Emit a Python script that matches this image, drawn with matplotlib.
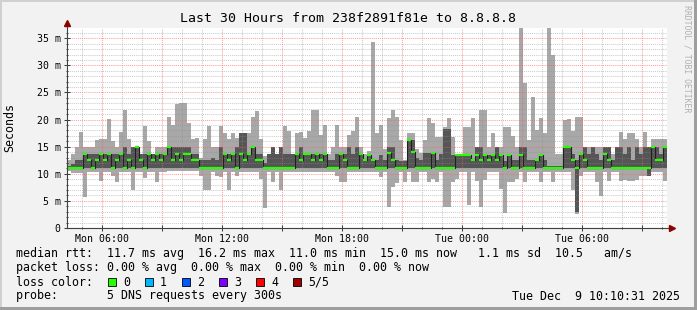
import numpy as np
import matplotlib
matplotlib.use('Agg')
import matplotlib.pyplot as plt
from matplotlib.patches import Rectangle
from matplotlib.ticker import MultipleLocator, FuncFormatter

plt.rcParams['font.family'] = ['DejaVu Sans Mono']

# smokeping rtt, 12 minute buckets starting Mon 04:15, values in ms
start_hour = 4.25
step_hour = 0.2

ping_min = [10.5, 10.2, 10.2, 10.2, 5.8, 10.3, 10.3, 10.3, 8.6, 10.3, 10.3, 9.6, 8.5, 10.3, 10.3, 10.3, 7.1, 10.3, 10.3, 9.2, 10.3, 10.3, 8.5, 10.3, 10.3,
            10.5, 10.5, 10.5, 10.5, 10.5, 10.5, 10.5, 10.5, 9.6, 7.1, 7.1, 10.3, 9.6, 9.5, 10.3, 7.1, 10.3, 9.6, 10.3, 10.3, 10.3, 10.3, 10.3, 9.0, 3.7,
            10.3, 8.4, 10.3, 7.1, 10.3, 10.3, 10.3, 10.3, 10.3, 10.3, 10.3, 10.3, 10.3, 10.3, 10.3, 10.3, 10.3, 9.6, 8.5, 8.5, 10.3, 10.3, 10.3, 10.3, 10.3,
            10.3, 10.3, 10.3, 9.5, 10.3, 3.9, 7.5, 8.3, 10.3, 8.5, 10.3, 8.5, 8.5, 10.3, 10.3, 8.5, 9.0, 8.5, 10.3, 3.9, 3.9, 8.5, 9.0, 10.3, 10.3,
            4.2, 10.3, 8.7, 3.9, 8.8, 10.3, 10.3, 10.3, 7.2, 2.7, 8.5, 8.5, 9.0, 10.3, 8.5, 10.3, 10.3, 10.3, 8.5, 10.3, 10.3, 8.5, 10.3, 10.3, 10.3,
            10.3, 7.1, 2.5, 9.6, 10.3, 10.3, 10.3, 8.5, 5.9, 10.3, 8.6, 10.3, 10.3, 8.6, 8.9, 8.6, 8.6, 8.9, 9.6, 9.6, 9.6, 10.3, 10.3, 10.3, 8.6]

ping_lo = [11.0] * 127 + [3.0] + [11.0] * 17 + [9.6] + [11.0] * 4

ping_med = [11, 11, 11, 11, 13.6, 12.5, 11, 12.5, 13.6, 12.5, 13.6, 11, 12.5, 13.6, 11, 12.5, 11, 15.0, 12.5, 11, 13.6, 12.5, 13.6, 12.5, 13.6,
            15.0, 12.5, 13.6, 12.5, 13.6, 13.6, 12.5, 12.5, 11, 11, 11, 11, 11, 11, 13.6, 12.5, 13.6, 11, 13.6, 12.5, 13.6, 15.0, 12.5, 12.5, 11,
            11, 11, 11, 11, 11, 11, 11, 13.6, 12.5, 13.6, 13.6, 12.5, 13.6, 12.5, 13.6, 11, 11, 11, 13.6, 12.5, 11, 11, 11, 13.6, 12.5,
            13.5, 12.5, 11, 11, 11, 13.9, 12.5, 11, 11, 11, 16.2, 14.0, 11, 11, 11, 11, 13.9, 11, 11, 11, 11, 11, 13.5, 13.5, 13.5,
            13.5, 12.5, 13.5, 12.5, 13.5, 12.5, 13.5, 12.5, 13.5, 11, 13.5, 11, 11, 13.5, 11, 11, 11, 12.5, 13.5, 11, 11, 11, 11, 11, 15.0,
            15.0, 12.5, 11, 13.6, 12.5, 11, 11, 11, 11, 13.6, 12.5, 11, 11, 11, 11, 11, 11, 11, 11, 11, 11, 15.0, 12.5, 12.5, 15.0]

ping_hi = [11.5, 11.8, 12.5, 12.5, 13.6, 13.6, 13.6, 13.6, 13.6, 13.6, 13.6, 13.6, 13.6, 13.6, 15.0, 13.6, 15.0, 15.0, 13.6, 13.6, 13.6, 13.6, 13.6, 13.6, 13.6,
           15.0, 15.0, 15.0, 15.0, 15.0, 15.0, 13.6, 13.6, 12.5, 12.5, 12.5, 13.0, 12.5, 15.0, 13.6, 13.6, 13.6, 15.0, 17.5, 17.5, 13.6, 15.0, 13.6, 13.6, 12.0,
           13.6, 15.0, 13.6, 15.0, 13.6, 13.6, 13.6, 13.6, 15.0, 13.6, 13.6, 13.6, 13.6, 13.6, 13.6, 12.5, 12.5, 13.6, 13.6, 13.6, 15.0, 13.6, 15.0, 13.6, 12.5,
           13.5, 12.5, 12.5, 13.5, 12.5, 15.0, 15.0, 12.5, 12.3, 12.3, 16.2, 16.2, 13.0, 12.5, 13.9, 13.9, 13.9, 12.5, 13.6, 18.2, 18.2, 13.5, 13.5, 13.5, 13.5,
           13.5, 12.5, 15.0, 15.0, 13.5, 13.5, 13.5, 15.0, 13.5, 12.3, 13.5, 12.5, 12.5, 15.0, 15.0, 12.5, 12.5, 12.5, 13.5, 12.5, 11.5, 11.5, 11.5, 11.5, 15.0,
           15.0, 13.6, 12.5, 13.6, 15.0, 13.6, 15.0, 13.6, 12.5, 15.0, 15.0, 12.5, 15.0, 15.0, 13.6, 15.0, 12.5, 15.0, 13.6, 15.0, 15.0, 15.0, 15.0, 13.6, 15.0]

ping_max = [12.5, 13.6, 15.0, 17.7, 15.0, 15.0, 15.0, 16.2, 16.5, 16.5, 20.2, 16.0, 15.0, 17.7, 21.7, 16.4, 15.0, 15.0, 13.6, 18.8, 16.0, 13.6, 15.0, 15.0, 15.0,
            20.4, 19.0, 22.8, 23.0, 23.0, 19.4, 16.5, 16.6, 13.0, 16.5, 18.8, 15.0, 15.0, 18.8, 17.5, 16.5, 17.5, 16.6, 17.5, 17.5, 17.5, 20.4, 21.6, 16.5, 13.2,
            13.6, 15.0, 13.6, 15.0, 18.8, 17.9, 13.6, 17.5, 17.7, 16.6, 17.9, 21.7, 21.7, 17.2, 19.0, 13.6, 15.0, 19.0, 15.0, 15.0, 17.2, 17.9, 20.4, 15.0, 13.6,
            14.2, 34.4, 17.5, 19.0, 14.5, 20.3, 21.8, 20.5, 16.2, 12.5, 17.6, 17.6, 14.5, 13.9, 16.2, 20.3, 19.4, 16.8, 16.8, 18.7, 20.3, 16.8, 13.5, 13.5, 18.7,
            18.7, 20.3, 15.0, 21.8, 21.8, 15.0, 17.5, 15.0, 15.0, 18.7, 18.7, 17.0, 15.0, 37.1, 26.7, 16.2, 24.2, 18.1, 20.3, 17.5, 37.1, 31.9, 13.6, 13.6, 20.0,
            20.2, 17.9, 20.4, 20.4, 15.0, 15.0, 15.0, 15.0, 15.0, 15.0, 15.0, 13.6, 15.0, 17.7, 16.4, 17.5, 17.5, 16.4, 15.0, 17.7, 15.0, 16.5, 16.5, 16.5, 16.5]

tick_hours = [6, 12, 18, 24, 30]
tick_names = ['Mon 06:00', 'Mon 12:00', 'Mon 18:00', 'Tue 00:00', 'Tue 06:00']

loss_names = ['0', '1', '2', '3', '4', '5/5']
loss_colors = ['#26ff00', '#00b8ff', '#0059ff', '#7e00ff', '#ff0000', '#a10000']

title = 'Last 30 Hours from 238f2891f81e to 8.8.8.8'
legend_rtt = 'median rtt:  11.7 ms avg  16.2 ms max  11.0 ms min  15.0 ms now   1.1 ms sd  10.5   am/s'
legend_loss = 'packet loss: 0.00 % avg  0.00 % max  0.00 % min  0.00 % now'
legend_probe = 'probe:       5 DNS requests every 300s'
stamp = 'Tue Dec  9 10:10:31 2025'

W, H = 697, 310
fig = plt.figure(figsize=(W / 100, H / 100), dpi=100, facecolor='#f2f2f2')
ax = fig.add_axes([67 / W, 82 / H, 600 / W, 200 / H], facecolor='white')

n = len(ping_med)
edges = start_hour + step_hour * np.arange(n + 1)


def ext(v):
    return np.append(v, v[-1])


ax.fill_between(edges, ext(ping_min), ext(ping_max), step='post', color='#a8a8a8', lw=0, zorder=1)
ax.fill_between(edges, ext(ping_lo), ext(ping_hi), step='post', color='#555555', lw=0, zorder=1.1)
ax.step(edges, ext(ping_med), where='post', color='#202020', lw=0.8, zorder=3)
ax.hlines(ping_med, edges[:-1], edges[1:], color=loss_colors[0], lw=1.6, zorder=3.5, capstyle='butt')

ax.set_xlim(edges[0], edges[-1])
ax.set_ylim(0, 36.9)
ax.xaxis.set_major_locator(MultipleLocator(3))
ax.xaxis.set_minor_locator(MultipleLocator(1))
ax.yaxis.set_major_locator(MultipleLocator(5))
ax.yaxis.set_minor_locator(MultipleLocator(1))
names = dict(zip(tick_hours, tick_names))
ax.xaxis.set_major_formatter(FuncFormatter(lambda v, p: names.get(int(round(v)), '')))
ax.yaxis.set_major_formatter(FuncFormatter(lambda v, p: '0' if v == 0 else '%d m' % v))

ax.set_axisbelow(False)
ax.grid(which='major', color='#ff5f5f', alpha=0.6, ls=(0, (1, 1)), lw=0.75)
ax.grid(which='minor', color='#8f8f8f', alpha=0.45, ls=(0, (1, 1)), lw=0.75)
for s in ax.spines.values():
    s.set_visible(False)
ax.tick_params(which='major', direction='inout', length=4, width=0.75, color='#404040', labelsize=7.1, pad=2.5)
ax.tick_params(which='minor', direction='inout', length=2, width=0.75, color='#404040')

# axes with arrows
ax.plot([0, 0], [0, 1.02], transform=ax.transAxes, color='#404040', lw=0.8, clip_on=False, zorder=5)
ax.plot([0, 1.007], [0, 0], transform=ax.transAxes, color='#404040', lw=0.8, clip_on=False, zorder=5)
ax.plot([0], [1.025], marker='^', ms=4, color='#8c0000', transform=ax.transAxes, clip_on=False, zorder=6)
ax.plot([1.008], [0], marker='>', ms=4, color='#8c0000', transform=ax.transAxes, clip_on=False, zorder=6)

fig.text(347.5 / W, 1 - 19 / H, title, ha='center', va='center', fontsize=9.5)
fig.text(10 / W, 1 - 128 / H, 'Seconds', rotation=90, ha='center', va='center', fontsize=8.4)
fig.text(687 / W, 1 - 59 / H, 'RRDTOOL / TOBI OETIKER', rotation=270, ha='center', va='center',
         fontsize=5.9, color='#b0b0b0')

fig.text(16 / W, 1 - 254 / H, legend_rtt, va='center', fontsize=8.4)
fig.text(16 / W, 1 - 268 / H, legend_loss, va='center', fontsize=8.4)
fig.text(16 / W, 1 - 282 / H, 'loss color:', va='center', fontsize=8.4)
for k in range(len(loss_names)):
    bx = 108 + 37 * k
    fig.add_artist(Rectangle((bx / W, 1 - 286 / H), 8 / W, 8 / H, transform=fig.transFigure,
                             facecolor=loss_colors[k], edgecolor='black', lw=0.6))
    fig.text((bx + 15) / W, 1 - 282 / H, loss_names[k], va='center', fontsize=8.4)
fig.text(16 / W, 1 - 296 / H, legend_probe, va='center', fontsize=8.4)
fig.text(680 / W, 1 - 296 / H, stamp, ha='right', va='center', fontsize=8.4)

# frame shading
fig.add_artist(Rectangle((0, 1 - 2 / H), 1, 2 / H, transform=fig.transFigure, color='#d0d0d0', lw=0))
fig.add_artist(Rectangle((0, 0), 2 / W, 1, transform=fig.transFigure, color='#d0d0d0', lw=0))
fig.add_artist(Rectangle((0, 0), 1, 3 / H, transform=fig.transFigure, color='#9e9e9e', lw=0))
fig.add_artist(Rectangle((1 - 3 / W, 0), 3 / W, 1, transform=fig.transFigure, color='#9e9e9e', lw=0))

fig.savefig('out.png', dpi=100, facecolor=fig.get_facecolor())
